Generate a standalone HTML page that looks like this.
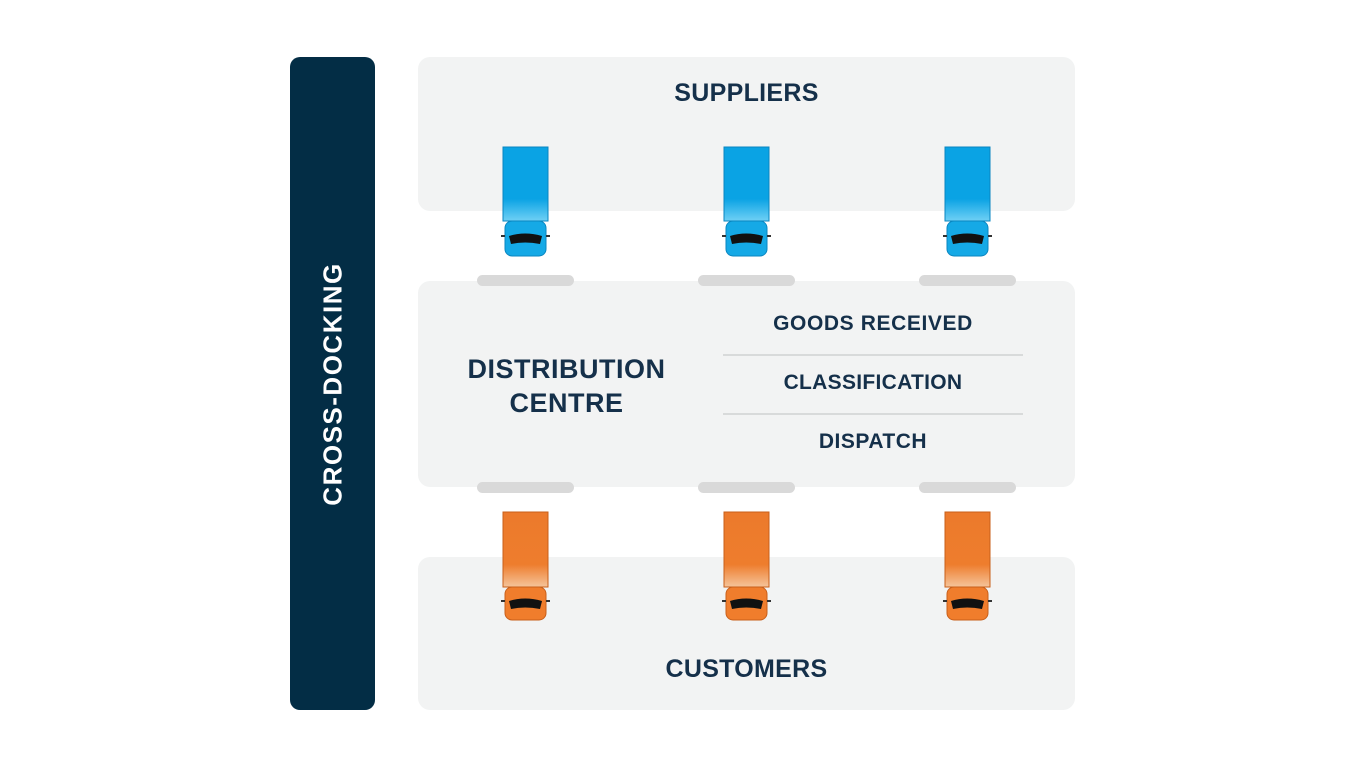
<!DOCTYPE html>
<html><head><style>
body{margin:0;width:1366px;height:768px;background:#fff;position:relative;overflow:hidden;font-family:"Liberation Sans",sans-serif;}
.p{position:absolute;background:#f2f3f3;border-radius:12px;left:418px;width:657px;}
.t{position:absolute;color:#15304a;font-weight:bold;text-align:center;}
.bar{position:absolute;width:97px;height:11px;border-radius:6px;background:#d9d9d9;}
.ln{position:absolute;left:723px;width:300px;height:2px;background:#d8dada;}
</style></head><body>
<div style="position:absolute;left:290px;top:57px;width:85px;height:653px;background:#032d45;border-radius:10px"></div>
<div class="t" style="left:333px;top:384px;width:0;height:0"><div style="position:absolute;transform:translate(-50%,-50%) rotate(-90deg);white-space:nowrap;color:#fff;font-size:26px;letter-spacing:1.5px">CROSS-DOCKING</div></div>
<div class="p" style="top:57px;height:154px"></div>
<div class="p" style="top:281px;height:206px"></div>
<div class="p" style="top:557px;height:153px"></div>
<div class="t" style="left:418px;width:657px;top:79px;font-size:25px;letter-spacing:0.3px">SUPPLIERS</div>
<div class="t" style="left:418px;width:657px;top:655px;font-size:25px;letter-spacing:0.3px">CUSTOMERS</div>
<div class="t" style="left:440px;width:253px;top:352px;font-size:27px;line-height:34px;letter-spacing:0.5px">DISTRIBUTION<br>CENTRE</div>
<div class="t" style="left:723px;width:300px;top:312px;font-size:21px;letter-spacing:0.6px">GOODS RECEIVED</div>
<div class="t" style="left:723px;width:300px;top:371px;font-size:21px;letter-spacing:0.3px">CLASSIFICATION</div>
<div class="t" style="left:723px;width:300px;top:430px;font-size:21px;letter-spacing:0.5px">DISPATCH</div>
<div class="ln" style="top:354px"></div><div class="ln" style="top:413px"></div>
<div class="bar" style="left:477px;top:275px"></div><div class="bar" style="left:698px;top:275px"></div><div class="bar" style="left:919px;top:275px"></div>
<div class="bar" style="left:477px;top:482px"></div><div class="bar" style="left:698px;top:482px"></div><div class="bar" style="left:919px;top:482px"></div>
<svg width="1366" height="768" style="position:absolute;left:0;top:0">
<defs>
<linearGradient id="bg" x1="0" y1="0" x2="0" y2="1"><stop offset="0" stop-color="#0aa3e4"/><stop offset=".7" stop-color="#0aa3e4"/><stop offset="1" stop-color="#6fd0f5"/></linearGradient>
<linearGradient id="og" x1="0" y1="0" x2="0" y2="1"><stop offset="0" stop-color="#ec7a2c"/><stop offset=".7" stop-color="#ee7d2d"/><stop offset="1" stop-color="#f5c49a"/></linearGradient>
<g id="tb">
<rect x="0" y="0" width="45" height="74" fill="url(#bg)" stroke="#0a86c0"/>
<rect x="2" y="74" width="41" height="35" rx="7" fill="#15a9e6" stroke="#0a86c0"/>
<path d="M6 89 Q22 84 39 89 L37 97 Q22 94 8 97Z" fill="#111"/>
<rect x="-2" y="88" width="4" height="2" fill="#333"/><rect x="43" y="88" width="4" height="2" fill="#333"/>
</g>
<g id="to">
<rect x="0" y="0" width="45" height="75" fill="url(#og)" stroke="#c85f1a"/>
<rect x="2" y="75" width="41" height="33" rx="7" fill="#f07d2c" stroke="#c85f1a"/>
<path d="M6 89 Q22 84 39 89 L37 97 Q22 94 8 97Z" fill="#111"/>
<rect x="-2" y="88" width="4" height="2" fill="#333"/><rect x="43" y="88" width="4" height="2" fill="#333"/>
</g>
</defs>
<use href="#tb" x="503" y="147"/><use href="#tb" x="724" y="147"/><use href="#tb" x="945" y="147"/>
<use href="#to" x="503" y="512"/><use href="#to" x="724" y="512"/><use href="#to" x="945" y="512"/>
</svg>
</body></html>
